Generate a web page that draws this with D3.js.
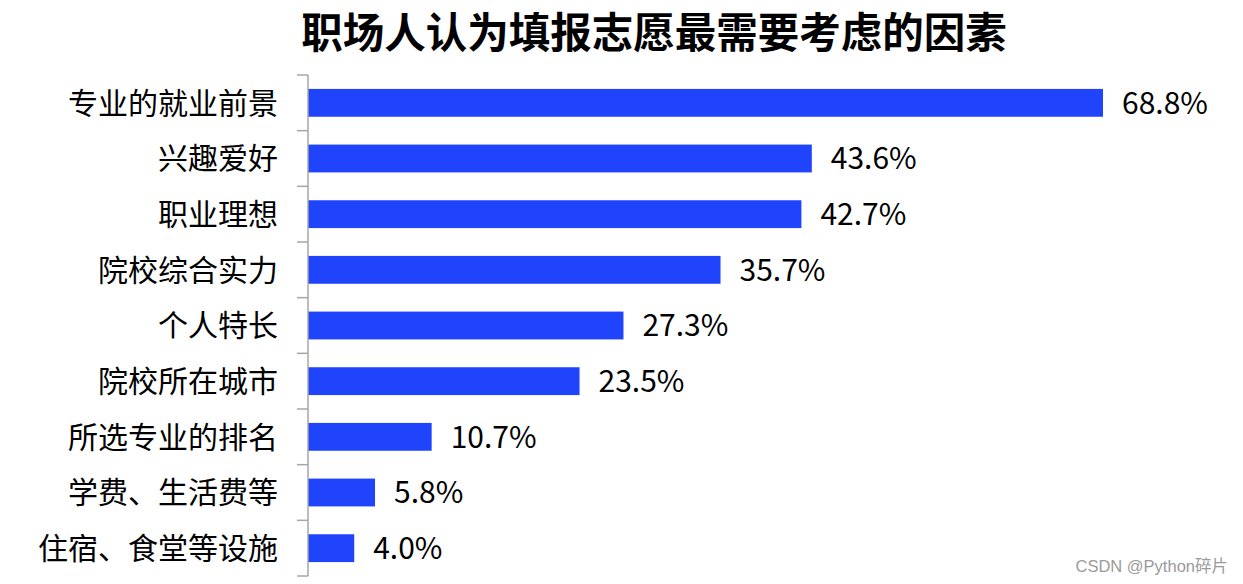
<!DOCTYPE html>
<html>
<head>
<meta charset="utf-8">
<script src="https://cdn.jsdelivr.net/npm/d3@7"></script>
<style>
  html, body { margin: 0; padding: 0; background: #fff; }
  svg { display: block; }
  text { font-family: "Noto Sans CJK SC", "Noto Sans", sans-serif; }
</style>
</head>
<body>
<div id="chart"></div>
<script>
// chart data
const factors = [
  "专业的就业前景",
  "兴趣爱好",
  "职业理想",
  "院校综合实力",
  "个人特长",
  "院校所在城市",
  "所选专业的排名",
  "学费、生活费等",
  "住宿、食堂等设施",
];
const shares = [68.8, 43.6, 42.7, 35.7, 27.3, 23.5, 10.7, 5.8, 4.0];
const chartTitle = "职场人认为填报志愿最需要考虑的因素";
const watermark = "CSDN @Python碎片";

(function () {
  const fullWidth = 1243;
  const fullHeight = 584;
  const margin = { top: 75, right: 140, bottom: 8, left: 308 };

  const svg = d3
    .select("#chart")
    .append("svg")
    .attr("width", fullWidth)
    .attr("height", fullHeight);

  // title
  svg
    .append("text")
    .attr("x", 654)
    .attr("y", 48)
    .attr("text-anchor", "middle")
    .style("font-size", "41.5px")
    .style("font-weight", "bold")
    .style("fill", "#000")
    .text(chartTitle);

  const g = svg
    .append("g")
    .attr("transform", `translate(${margin.left},${margin.top})`);

  // scales
  const xScale = d3.scaleLinear().domain([0, 68.8]).range([0, 795]);
  const yScale = d3
    .scaleBand()
    .domain(factors)
    .range([0, 501])
    .paddingInner(0.5)
    .paddingOuter(0.25);

  // bars
  g.selectAll("rect.bar")
    .data(shares)
    .enter()
    .append("rect")
    .attr("class", "bar")
    .attr("x", 0)
    .attr("y", (d, i) => yScale(factors[i]))
    .attr("width", (d) => xScale(d))
    .attr("height", yScale.bandwidth())
    .style("fill", "#1f44fb");

  // value labels
  g.selectAll("text.value")
    .data(shares)
    .enter()
    .append("text")
    .attr("class", "value")
    .attr("x", (d) => xScale(d) + 19)
    .attr("y", (d, i) => yScale(factors[i]) + yScale.bandwidth() / 2)
    .attr("dy", "0.36em")
    .style("font-size", "30px")
    .style("fill", "#000")
    .text((d) => d.toFixed(1) + "%");

  // category axis with ticks between bands
  const axisG = g.append("g").attr("class", "y-axis");
  axisG
    .append("line")
    .attr("x1", 0)
    .attr("x2", 0)
    .attr("y1", 0)
    .attr("y2", 501)
    .style("stroke", "#a6a6a6")
    .style("stroke-width", 1.5);
  axisG
    .selectAll("line.tick")
    .data(d3.range(factors.length + 1))
    .enter()
    .append("line")
    .attr("class", "tick")
    .attr("x1", -11)
    .attr("x2", 0)
    .attr("y1", (i) => i * (501 / factors.length))
    .attr("y2", (i) => i * (501 / factors.length))
    .style("stroke", "#a6a6a6")
    .style("stroke-width", 1.5);

  axisG
    .selectAll("text.cat")
    .data(factors)
    .enter()
    .append("text")
    .attr("class", "cat")
    .attr("x", -30)
    .attr("y", (d) => yScale(d) + yScale.bandwidth() / 2)
    .attr("dy", "0.36em")
    .attr("text-anchor", "end")
    .style("font-size", "30px")
    .style("fill", "#000")
    .text((d) => d);

  // watermark
  svg
    .append("text")
    .attr("x", 1228)
    .attr("y", 572)
    .attr("text-anchor", "end")
    .style("font-size", "16.5px")
    .style("fill", "#9a9a9a")
    .style("font-family", "Arial, 'Liberation Sans', 'Noto Sans CJK SC', sans-serif")
    .text(watermark);
})();
</script>
</body>
</html>
